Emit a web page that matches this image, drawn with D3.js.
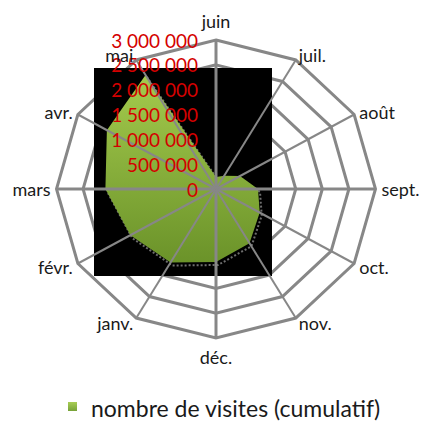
<!DOCTYPE html>
<html><head><meta charset="utf-8">
<script src="https://cdn.jsdelivr.net/npm/d3@7"></script>
<style>html,body{margin:0;padding:0;background:#fff;}svg{display:block;}</style>
</head><body>
<svg id="c" width="422" height="422"></svg>
<script>
const months = ["juin","juil.","août","sept.","oct.","nov.","déc.","janv.","févr.","mars","avr.","mai"];
const visits = [240000, 310000, 520000, 790000, 950000, 1260000, 1470000, 1710000, 1860000, 2080000, 2370000, 2650000];
const tickValues = [0, 500000, 1000000, 1500000, 2000000, 2500000, 3000000];
const tickLabels = ["0","500 000","1 000 000","1 500 000","2 000 000","2 500 000","3 000 000"];
const seriesName = "nombre de visites (cumulatif)";

const svg = d3.select("#c");
const cx = 216, cy = 189, rx = 159.5, ry = 149;
const FONT = "Lato, 'Open Sans', sans-serif";
const grid = "#878787";

const r = d3.scaleLinear().domain([0, 3000000]).range([0, 1]);
const ang = d3.scaleLinear().domain([0, months.length]).range([0, 2 * Math.PI]);
const px = (i, v) => cx + r(v) * rx * Math.sin(ang(i));
const py = (i, v) => cy - r(v) * ry * Math.cos(ang(i));

const defs = svg.append("defs");
const g1 = defs.append("linearGradient").attr("id", "gf").attr("gradientUnits", "userSpaceOnUse")
  .attr("x1", 0).attr("y1", 70).attr("x2", 0).attr("y2", 265);
g1.append("stop").attr("offset", 0).attr("stop-color", "#a6cc4e");
g1.append("stop").attr("offset", 1).attr("stop-color", "#6a9229");
const g2 = defs.append("linearGradient").attr("id", "gl").attr("x1", 0).attr("y1", 0).attr("x2", 0).attr("y2", 1);
g2.append("stop").attr("offset", 0).attr("stop-color", "#a8cd55");
g2.append("stop").attr("offset", 1).attr("stop-color", "#77a238");

// rings
const ringLine = d3.line().curve(d3.curveLinearClosed);
svg.append("g").selectAll("path").data(tickValues.slice(1)).join("path")
  .attr("d", v => ringLine(months.map((m, i) => [px(i, v), py(i, v)])))
  .attr("fill", "none").attr("stroke", grid).attr("stroke-width", 3).attr("stroke-linejoin", "miter");

// plot-area background
svg.append("rect").attr("x", 94).attr("y", 68).attr("width", 178).attr("height", 208).attr("fill", "#000");

// series
const area = d3.line().x((d, i) => px(i, d)).y((d, i) => py(i, d)).curve(d3.curveLinearClosed);
svg.append("path").attr("d", area(visits)).attr("transform", "translate(2,3)")
  .attr("fill", "none").attr("stroke", "#6e6e6e").attr("stroke-width", 2).attr("stroke-dasharray", "2,2");
svg.append("path").attr("d", area(visits)).attr("fill", "url(#gf)");

// spokes
svg.append("g").selectAll("line").data(months).join("line")
  .attr("x1", cx).attr("y1", cy)
  .attr("x2", (m, i) => px(i, 3000000)).attr("y2", (m, i) => py(i, 3000000))
  .attr("stroke", grid).attr("stroke-width", (m, i) => i % 3 === 0 ? 3 : 2);

// tick labels
svg.append("g").selectAll("text").data(tickValues).join("text")
  .attr("x", 198).attr("y", v => py(0, v))
  .attr("text-anchor", "end").attr("dominant-baseline", "central")
  .attr("font-family", FONT).attr("font-size", 19).attr("fill", "#d40000")
  .text((v, i) => tickLabels[i]);

// category labels
svg.append("g").selectAll("text").data(months).join("text")
  .attr("x", (m, i) => cx + (rx + 6) * Math.sin(ang(i)))
  .attr("y", (m, i) => {
    const c = Math.cos(ang(i));
    const base = cy - (ry + 6) * c;
    return Math.abs(Math.sin(ang(i))) < 0.1 ? base - Math.sign(c) * 13 : base;
  })
  .attr("text-anchor", (m, i) => {
    const s = Math.sin(ang(i));
    return Math.abs(s) < 0.1 ? "middle" : (s > 0 ? "start" : "end");
  })
  .attr("dominant-baseline", "central")
  .attr("font-family", FONT).attr("font-size", 18).attr("fill", "#1a1a1a")
  .text(m => m);

// legend
svg.append("rect").attr("x", 68).attr("y", 402).attr("width", 9).attr("height", 9).attr("fill", "url(#gl)");
svg.append("text").attr("x", 91).attr("y", 416.5)
  .attr("font-family", FONT).attr("font-size", 23).attr("fill", "#1a1a1a").text(seriesName);
</script>
</body></html>
